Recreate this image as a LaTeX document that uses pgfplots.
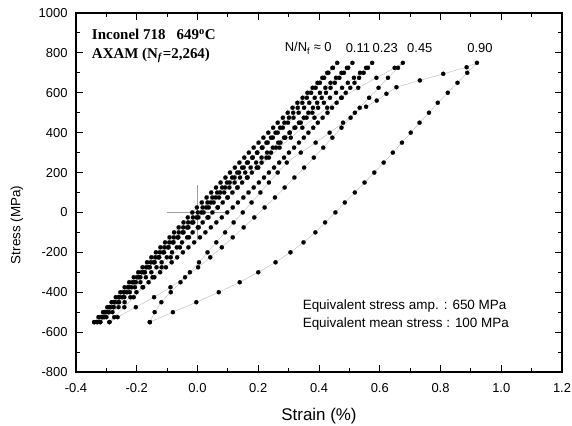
\documentclass[border=0pt]{standalone}
\usepackage{fontspec}
\setmainfont{Liberation Sans}
\newfontfamily\timesfont{Liberation Serif}
\usepackage{pgfplots}
\pgfplotsset{compat=1.18}
\pgfplotsset{hloop/.style={color=gray!55, line width=0.4pt, mark=*, mark size=2.1bp,
     mark options={fill=black, draw=black, line width=0.2pt}}}
\begin{document}
\begin{tikzpicture}
\begin{axis}[
  at={(0,0)}, anchor=south west, scale only axis,
  width=486bp, height=359bp,
  xmin=-0.4, xmax=1.2, ymin=-800, ymax=1000,
  xtick={-0.4,-0.2,0,0.2,0.4,0.6,0.8,1.0,1.2},
  ytick={-800,-600,-400,-200,0,200,400,600,800,1000},
  minor x tick num=1, minor y tick num=1,
  tick align=inside, major tick length=7bp, minor tick length=4bp,
  tick style={line width=0.9pt, black},
  axis line style={line width=1.1pt},
  /pgf/number format/assume math mode=true,
  /pgf/number format/1000 sep={},
  xticklabel style={/pgf/number format/fixed, /pgf/number format/fixed zerofill, /pgf/number format/precision=1, yshift=-8bp},
  ticklabel style={font=\fontsize{13}{15}\selectfont},
  yticklabel style={xshift=-5bp},
  clip=false,
]
% cross at origin
\addplot[gray!75, line width=1pt, no marks, forget plot] coordinates {(-0.1,0) (0.1,0)};
\addplot[gray!75, line width=1pt, no marks, forget plot] coordinates {(0,-137) (0,137)};

% N/Nf = 0
\addplot[hloop] table[x index=1, y index=0] {
-550 -0.340
-525 -0.326
-500 -0.311
-475 -0.297
-450 -0.283
-425 -0.269
-400 -0.254
-375 -0.240
-350 -0.225
-325 -0.210
-300 -0.195
-275 -0.181
-250 -0.166
-225 -0.152
-200 -0.137
-175 -0.122
-150 -0.107
-125 -0.092
-100 -0.077
-75 -0.062
-50 -0.046
-25 -0.032
0 -0.017
25 -0.002
50 0.014
75 0.030
100 0.045
125 0.061
150 0.076
175 0.092
200 0.107
225 0.123
250 0.138
275 0.154
300 0.169
325 0.185
350 0.201
375 0.217
400 0.233
425 0.249
450 0.264
475 0.281
500 0.297
525 0.313
550 0.329
575 0.346
600 0.362
625 0.379
650 0.395
675 0.411
700 0.427
725 0.444
750 0.460
725 0.446
700 0.431
675 0.417
650 0.403
625 0.389
600 0.374
575 0.360
550 0.345
525 0.330
500 0.315
475 0.301
450 0.286
425 0.272
400 0.257
375 0.242
350 0.227
325 0.212
300 0.197
275 0.182
250 0.166
225 0.152
200 0.137
175 0.122
150 0.106
125 0.091
100 0.075
75 0.060
50 0.044
25 0.029
0 0.013
-25 -0.003
-50 -0.018
-75 -0.034
-100 -0.049
-125 -0.065
-150 -0.081
-175 -0.097
-200 -0.113
-225 -0.129
-250 -0.144
-275 -0.161
-300 -0.177
-325 -0.193
-350 -0.209
-375 -0.226
-400 -0.242
-425 -0.259
-450 -0.275
-475 -0.291
-500 -0.307
-525 -0.324
-550 -0.340
};

% N/Nf = 0.11
\addplot[hloop] table[x index=1, y index=0] {
-550 -0.330
-525 -0.316
-500 -0.302
-475 -0.287
-450 -0.272
-425 -0.258
-400 -0.243
-375 -0.229
-350 -0.214
-325 -0.199
-300 -0.184
-275 -0.169
-250 -0.154
-225 -0.139
-200 -0.124
-175 -0.109
-150 -0.093
-125 -0.078
-100 -0.062
-75 -0.047
-50 -0.031
-25 -0.015
0 0.001
25 0.017
50 0.033
75 0.049
100 0.065
125 0.081
150 0.097
175 0.114
200 0.131
225 0.147
250 0.163
275 0.180
300 0.196
325 0.214
350 0.231
375 0.248
400 0.264
425 0.281
450 0.298
475 0.316
500 0.333
525 0.351
550 0.368
575 0.386
600 0.403
625 0.421
650 0.438
675 0.456
700 0.474
725 0.492
750 0.510
725 0.496
700 0.482
675 0.467
650 0.452
625 0.438
600 0.423
575 0.409
550 0.394
525 0.380
500 0.365
475 0.350
450 0.334
425 0.319
400 0.304
375 0.289
350 0.273
325 0.258
300 0.242
275 0.227
250 0.211
225 0.195
200 0.179
175 0.163
150 0.147
125 0.131
100 0.115
75 0.099
50 0.083
25 0.066
0 0.049
-25 0.033
-50 0.017
-75 0.001
-100 -0.016
-125 -0.034
-150 -0.051
-175 -0.068
-200 -0.084
-225 -0.101
-250 -0.118
-275 -0.135
-300 -0.152
-325 -0.170
-350 -0.188
-375 -0.206
-400 -0.223
-425 -0.241
-450 -0.258
-475 -0.276
-500 -0.294
-525 -0.312
-550 -0.330
};

% N/Nf = 0.23
\addplot[hloop] table[x index=1, y index=0] {
-550 -0.320
-525 -0.306
-500 -0.292
-475 -0.277
-450 -0.262
-425 -0.248
-400 -0.233
-375 -0.218
-350 -0.203
-325 -0.188
-300 -0.173
-275 -0.157
-250 -0.141
-225 -0.126
-200 -0.110
-175 -0.095
-150 -0.079
-125 -0.063
-100 -0.046
-75 -0.030
-50 -0.014
-25 0.003
0 0.020
25 0.037
50 0.053
75 0.071
100 0.088
125 0.105
150 0.122
175 0.140
200 0.157
225 0.175
250 0.193
275 0.211
300 0.229
325 0.248
350 0.266
375 0.285
400 0.303
425 0.322
450 0.340
475 0.359
500 0.378
525 0.397
550 0.416
575 0.436
600 0.456
625 0.476
650 0.495
675 0.515
700 0.535
725 0.555
750 0.575
725 0.561
700 0.547
675 0.532
650 0.517
625 0.503
600 0.488
575 0.473
550 0.458
525 0.443
500 0.428
475 0.412
450 0.396
425 0.381
400 0.365
375 0.350
350 0.334
325 0.318
300 0.301
275 0.285
250 0.269
225 0.252
200 0.235
175 0.219
150 0.202
125 0.185
100 0.168
75 0.151
50 0.133
25 0.116
0 0.098
-25 0.080
-50 0.062
-75 0.044
-100 0.026
-125 0.008
-150 -0.011
-175 -0.030
-200 -0.048
-225 -0.067
-250 -0.085
-275 -0.104
-300 -0.123
-325 -0.142
-350 -0.161
-375 -0.181
-400 -0.201
-425 -0.221
-450 -0.240
-475 -0.260
-500 -0.280
-525 -0.300
-550 -0.320
};

% N/Nf = 0.45
\addplot[hloop] table {
-0.290 -550
-0.274 -525
-0.241 -475
-0.210 -425
-0.179 -375
-0.148 -325
-0.118 -275
-0.088 -225
-0.058 -175
-0.028 -125
0.004 -75
0.036 -25
0.067 25
0.099 75
0.132 125
0.165 175
0.200 225
0.235 275
0.270 325
0.307 375
0.345 425
0.385 475
0.427 525
0.475 575
0.529 625
0.589 675
0.649 725
0.676 750
0.660 725
0.627 675
0.596 625
0.565 575
0.534 525
0.504 475
0.474 425
0.444 375
0.414 325
0.383 275
0.351 225
0.319 175
0.287 125
0.255 75
0.221 25
0.187 -25
0.152 -75
0.116 -125
0.080 -175
0.042 -225
0.002 -275
-0.041 -325
-0.089 -375
-0.143 -425
-0.203 -475
-0.263 -525
-0.290 -550
};

% N/Nf = 0.90
\addplot[hloop] table {
-0.157 -550
-0.141 -500
-0.119 -450
-0.088 -400
-0.056 -350
-0.025 -300
0.005 -250
0.033 -200
0.062 -150
0.091 -100
0.119 -50
0.149 0
0.178 50
0.207 100
0.235 150
0.264 200
0.294 250
0.340 300
0.389 350
0.435 400
0.479 450
0.518 500
0.555 530
0.590 561
0.622 595
0.655 628
0.732 662
0.809 695
0.886 728
0.920 750
0.888 700
0.856 650
0.824 600
0.791 550
0.762 500
0.731 450
0.702 400
0.673 350
0.643 300
0.613 250
0.582 200
0.550 150
0.518 100
0.485 50
0.454 0
0.420 -50
0.388 -100
0.349 -150
0.306 -200
0.257 -250
0.200 -300
0.139 -350
0.070 -400
-0.004 -450
-0.081 -500
-0.157 -550
};

% annotations
\node[anchor=west, font=\timesfont\bfseries\fontsize{15}{17}\selectfont, inner sep=0pt]
  at (axis cs:-0.348,892) {Inconel 718\ \ \ 649\textsuperscript{o}C};
\node[anchor=west, font=\timesfont\bfseries\fontsize{15}{17}\selectfont, inner sep=0pt]
  at (axis cs:-0.348,787) {AXAM (N\textsubscript{\textit{f}}=2,264)};
\node[anchor=west, font=\fontsize{13}{15}\selectfont, inner sep=0pt]
  at (axis cs:0.287,822) {N/N\textsubscript{f} ≈ 0};
\node[font=\fontsize{13}{15}\selectfont, inner sep=0pt] at (axis cs:0.528,822) {0.11};
\node[font=\fontsize{13}{15}\selectfont, inner sep=0pt] at (axis cs:0.618,822) {0.23};
\node[font=\fontsize{13}{15}\selectfont, inner sep=0pt] at (axis cs:0.732,822) {0.45};
\node[font=\fontsize{13}{15}\selectfont, inner sep=0pt] at (axis cs:0.930,822) {0.90};
\node[anchor=west, font=\fontsize{13.5}{15}\selectfont, inner sep=0pt]
  at (axis cs:0.346,-471) {Equivalent stress amp. : 650 MPa};
\node[anchor=west, font=\fontsize{13.5}{15}\selectfont, inner sep=0pt]
  at (axis cs:0.346,-561) {Equivalent mean stress : 100 MPa};
\node[font=\fontsize{17}{19}\selectfont, inner sep=0pt] at ([yshift=-44bp]rel axis cs:0.5,0) {Strain (\%)};
\node[rotate=90, font=\fontsize{13.5}{15}\selectfont, inner sep=0pt] at ([xshift=-59bp]rel axis cs:0,0.41) {Stress (MPa)};
\end{axis}
\pgfresetboundingbox
\path[use as bounding box] (-76bp,-54bp) rectangle (496bp,372bp);
\end{tikzpicture}
\end{document}
